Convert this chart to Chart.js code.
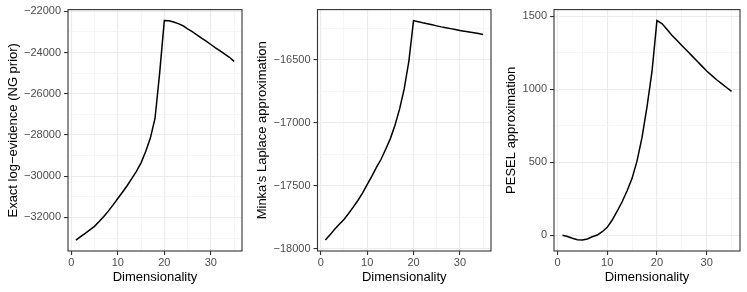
<!DOCTYPE html>
<html>
<head>
<meta charset="utf-8">
<script src="https://cdn.jsdelivr.net/npm/chart.js@4/dist/chart.umd.min.js"></script>
<style>
  body { margin: 0; background: #fff; }
  #wrap { display: flex; width: 747px; height: 292px; }
  .panel { width: 249px; height: 292px; }
</style>
</head>
<body>
<div id="wrap">
  <div class="panel"><canvas id="graficoExacto" width="249" height="292"></canvas></div>
  <div class="panel"><canvas id="graficoMinka" width="249" height="292"></canvas></div>
  <div class="panel"><canvas id="graficoPesel" width="249" height="292"></canvas></div>
</div>
<script>
// Datos
const dims = [1, 2, 3, 4, 5, 6, 7, 8, 9, 10, 11, 12, 13, 14, 15, 16, 17, 18, 19, 20,
  21, 22, 23, 24, 25, 26, 27, 28, 29, 30, 31, 32, 33, 34, 35];
const exacto = [-33095, -32930, -32770, -32600, -32430, -32200, -31950, -31680, -31390, -31080,
  -30780, -30460, -30120, -29760, -29350, -28800, -28150, -27200, -25000, -22450,
  -22460, -22520, -22600, -22700, -22850, -22990, -23140, -23300, -23450, -23610,
  -23770, -23920, -24080, -24230, -24430];
const minka = [-17931, -17890, -17845, -17805, -17768, -17720, -17670, -17617, -17558, -17492,
  -17425, -17355, -17290, -17210, -17126, -17020, -16890, -16730, -16510, -16189,
  -16198, -16207, -16215, -16223, -16231, -16239, -16246, -16253, -16260, -16267,
  -16273, -16279, -16285, -16292, -16300];
const pesel = [0, -8, -20, -30, -32, -25, -10, 2, 25, 55,
  105, 165, 230, 305, 390, 510, 670, 880, 1120, 1470,
  1450, 1410, 1370, 1335, 1300, 1265, 1230, 1195, 1160, 1125,
  1095, 1065, 1038, 1012, 985];

const xMajor = [0, 10, 20, 30];
const xMinor = [5, 15, 25, 35];
const exactoMajor = [-32000, -30000, -28000, -26000, -24000, -22000];
const exactoMinor = [-33000, -31000, -29000, -27000, -25000, -23000];
const minkaMajor = [-18000, -17500, -17000, -16500];
const minkaMinor = [-17750, -17250, -16750, -16250];
const peselMajor = [0, 500, 1000, 1500];
const peselMinor = [250, 750, 1250];

const FONT = "'Liberation Sans', Arial, Helvetica, sans-serif";

// rango con expansion del 5% como ggplot
function rango(vals) {
  const lo = Math.min(...vals), hi = Math.max(...vals);
  const e = (hi - lo) * 0.05;
  return [lo - e, hi + e];
}

function etiqueta(v) {
  return String(v).replace('-', '\u2212');
}

const marco = {
  id: 'marco',
  afterDraw(chart) {
    const a = chart.chartArea, c = chart.ctx;
    c.save();
    c.strokeStyle = '#333333';
    c.lineWidth = 1.1;
    c.strokeRect(a.left, a.top, a.right - a.left, a.bottom - a.top);
    c.restore();
  }
};

function gridOpts(major) {
  return {
    color: ctx => major.includes(ctx.tick.value) ? '#ebebeb' : '#f4f4f4',
    lineWidth: ctx => major.includes(ctx.tick.value) ? 1.1 : 0.8,
    tickColor: ctx => major.includes(ctx.tick.value) ? '#333333' : 'rgba(0,0,0,0)',
    tickLength: 4,
    tickWidth: 1.1
  };
}

function panel(id, valores, major, minor, titulo, anchoIzq) {
  const [yMin, yMax] = rango(valores);
  const [xMin, xMax] = rango(dims);
  new Chart(document.getElementById(id).getContext('2d'), {
    type: 'line',
    data: {
      datasets: [{
        data: dims.map((d, i) => ({ x: d, y: valores[i] })),
        borderColor: '#000000',
        borderWidth: 1.5,
        pointRadius: 0,
        fill: false,
        tension: 0
      }]
    },
    options: {
      responsive: false,
      animation: false,
      devicePixelRatio: 1,
      layout: { padding: { top: 7, right: 7, left: 0, bottom: 0 } },
      plugins: { legend: { display: false }, tooltip: { enabled: false } },
      scales: {
        x: {
          type: 'linear',
          min: xMin,
          max: xMax,
          afterBuildTicks: s => { s.ticks = xMajor.concat(xMinor).sort((a, b) => a - b).map(v => ({ value: v })); },
          afterFit: s => { s.height = 41; },
          grid: gridOpts(xMajor),
          border: { display: false },
          ticks: {
            padding: 1,
            maxRotation: 0,
            autoSkip: false,
            color: '#4d4d4d',
            font: { family: FONT, size: 11 },
            callback: v => xMajor.includes(v) ? etiqueta(v) : ''
          },
          title: {
            display: true,
            text: 'Dimensionality',
            color: '#000000',
            font: { family: FONT, size: 13 },
            padding: { top: 0, bottom: 7 }
          }
        },
        y: {
          type: 'linear',
          min: yMin,
          max: yMax,
          afterBuildTicks: s => { s.ticks = major.concat(minor).sort((a, b) => a - b).map(v => ({ value: v })); },
          afterFit: s => { s.width = anchoIzq; },
          grid: gridOpts(major),
          border: { display: false },
          ticks: {
            padding: 3,
            autoSkip: false,
            color: '#4d4d4d',
            font: { family: FONT, size: 11 },
            callback: v => major.includes(v) ? etiqueta(v) : ''
          },
          title: {
            display: true,
            text: titulo,
            color: '#000000',
            font: { family: FONT, size: 13 },
            padding: { top: 6, bottom: 0 }
          }
        }
      }
    },
    plugins: [marco]
  });
}

panel('graficoExacto', exacto, exactoMajor, exactoMinor, 'Exact log\u2212evidence (NG prior)', 68);
panel('graficoMinka', minka, minkaMajor, minkaMinor, "Minka's Laplace approximation", 68.5);
panel('graficoPesel', pesel, peselMajor, peselMinor, 'PESEL approximation', 56);
</script>
</body>
</html>
